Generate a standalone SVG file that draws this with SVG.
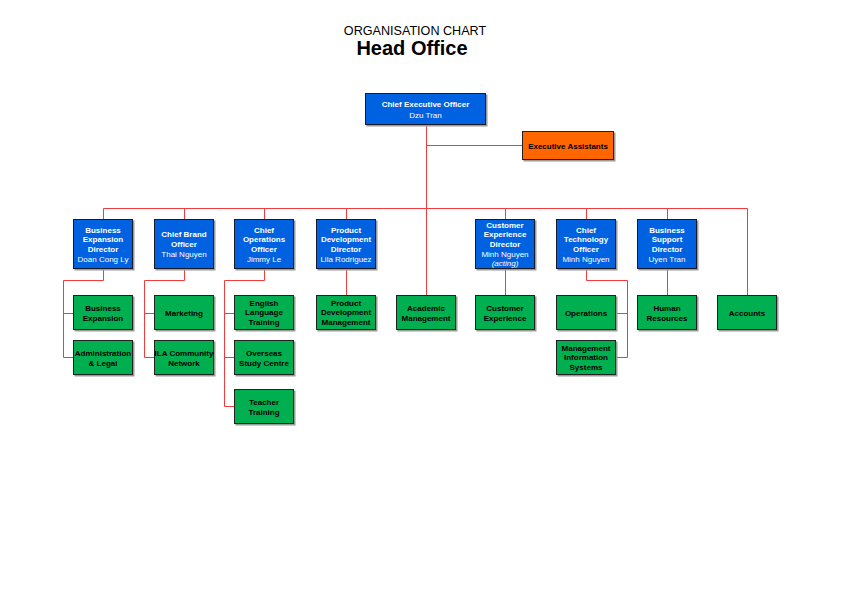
<svg xmlns="http://www.w3.org/2000/svg" width="842" height="595" viewBox="0 0 842 595">
<style>
  text { font-family: "Liberation Sans", Arial, sans-serif; text-anchor: middle; }
  .blue { fill: #0062e0; stroke: #1a1a2a; stroke-width: 1; }
  .green { fill: #00b050; stroke: #222; stroke-width: 1; }
  .orange { fill: #ff6600; stroke: #222; stroke-width: 1; }
  .shadow { fill: #9a9a9a; }
  .wt { fill: #fff; font-size: 8px; font-weight: bold; }
  .wn { fill: #fff; font-size: 8px; }
  .bt { fill: #000; font-size: 8px; font-weight: bold; }
  .conn path { fill: none; stroke: #f03c3c; stroke-width: 1; }
</style>
<rect width="842" height="595" fill="#fff"/>
<text x="415" y="34.5" font-size="12.6">ORGANISATION CHART</text>
<text x="412" y="54.5" font-size="20" font-weight="bold">Head Office</text>

<g class="conn">
  <path d="M426.5 125 V295"/>
  <path d="M426.5 145.5 H522"/>
  <path d="M103.5 208.5 H747.5"/>
  <path d="M103.5 208.5 V219 M184.5 208.5 V219 M264.5 208.5 V219 M346.5 208.5 V219 M505.5 208.5 V219 M586.5 208.5 V219 M667.5 208.5 V219 M747.5 208.5 V295"/>
  <path d="M103.5 269 V280.5 H63.5 V357.5 H73 M63.5 313.5 H73"/>
  <path d="M184.5 269 V280.5 H144.5 V357.5 H154 M144.5 313.5 H154"/>
  <path d="M264.5 269 V280.5 H224.5 V406.5 H234 M224.5 313.5 H234 M224.5 357.5 H234"/>
  <path d="M346.5 269 V295 M505.5 269 V295 M667.5 269 V295"/>
  <path d="M586.5 269 V280.5 H627.5 V357.5 H616 M627.5 313.5 H616"/>
</g>

<g id="ceo">
  <rect class="shadow" x="366.5" y="94.5" width="121" height="32"/>
  <rect class="blue" x="365.5" y="93.5" width="120" height="31"/>
  <text class="wt" x="425.5" y="107" font-size="9">Chief Executive Officer</text>
  <text class="wn" x="425.5" y="117.5" font-size="9">Dzu Tran</text>
</g>
<g id="exec-assistants">
  <rect class="shadow" x="523.5" y="132.5" width="92" height="29"/>
  <rect class="orange" x="522.5" y="131.5" width="91" height="28"/>
  <text class="bt" x="568" y="148.5">Executive Assistants</text>
</g>

<!-- Directors -->
<g id="dir-business-expansion">
  <rect class="shadow" x="74.5" y="220.5" width="60" height="50"/>
  <rect class="blue" x="73.5" y="219.5" width="59" height="49"/>
  <text class="wt" x="103" y="232.5">Business</text>
  <text class="wt" x="103" y="242">Expansion</text>
  <text class="wt" x="103" y="251.8">Director</text>
  <text class="wn" x="103" y="261.5">Doan Cong Ly</text>
</g>
<g id="dir-brand">
  <rect class="shadow" x="155.5" y="220.5" width="60" height="50"/>
  <rect class="blue" x="154.5" y="219.5" width="59" height="49"/>
  <text class="wt" x="184" y="237.3">Chief Brand</text>
  <text class="wt" x="184" y="246.7">Officer</text>
  <text class="wn" x="184" y="256.5">Thai Nguyen</text>
</g>
<g id="dir-operations">
  <rect class="shadow" x="235.5" y="220.5" width="60" height="50"/>
  <rect class="blue" x="234.5" y="219.5" width="59" height="49"/>
  <text class="wt" x="264" y="232.5">Chief</text>
  <text class="wt" x="264" y="242">Operations</text>
  <text class="wt" x="264" y="251.8">Officer</text>
  <text class="wn" x="264" y="261.5">Jimmy Le</text>
</g>
<g id="dir-product">
  <rect class="shadow" x="317.5" y="220.5" width="60" height="50"/>
  <rect class="blue" x="316.5" y="219.5" width="59" height="49"/>
  <text class="wt" x="346" y="232.5">Product</text>
  <text class="wt" x="346" y="242">Development</text>
  <text class="wt" x="346" y="251.8">Director</text>
  <text class="wn" x="346" y="261.5">Lila Rodriguez</text>
</g>
<g id="dir-customer">
  <rect class="shadow" x="476.5" y="220.5" width="60" height="50"/>
  <rect class="blue" x="475.5" y="219.5" width="59" height="49"/>
  <text class="wt" x="505" y="228">Customer</text>
  <text class="wt" x="505" y="237.3">Experience</text>
  <text class="wt" x="505" y="246.7">Director</text>
  <text class="wn" x="505" y="256.5">Minh Nguyen</text>
  <text class="wn" x="505" y="266" font-style="italic">(acting)</text>
</g>
<g id="dir-technology">
  <rect class="shadow" x="557.5" y="220.5" width="60" height="50"/>
  <rect class="blue" x="556.5" y="219.5" width="59" height="49"/>
  <text class="wt" x="586" y="232.5">Chief</text>
  <text class="wt" x="586" y="242">Technology</text>
  <text class="wt" x="586" y="251.8">Officer</text>
  <text class="wn" x="586" y="261.5">Minh Nguyen</text>
</g>
<g id="dir-business-support">
  <rect class="shadow" x="638.5" y="220.5" width="60" height="50"/>
  <rect class="blue" x="637.5" y="219.5" width="59" height="49"/>
  <text class="wt" x="667" y="232.5">Business</text>
  <text class="wt" x="667" y="242">Support</text>
  <text class="wt" x="667" y="251.8">Director</text>
  <text class="wn" x="667" y="261.5">Uyen Tran</text>
</g>

<!-- Departments row 1 -->
<g id="business-expansion">
  <rect class="shadow" x="74.5" y="296.5" width="60" height="35"/>
  <rect class="green" x="73.5" y="295.5" width="59" height="34"/>
  <text class="bt" x="103" y="310.5">Business</text>
  <text class="bt" x="103" y="320.5">Expansion</text>
</g>
<g id="marketing">
  <rect class="shadow" x="155.5" y="296.5" width="60" height="35"/>
  <rect class="green" x="154.5" y="295.5" width="59" height="34"/>
  <text class="bt" x="184" y="315.5">Marketing</text>
</g>
<g id="english-language-training">
  <rect class="shadow" x="235.5" y="296.5" width="60" height="35"/>
  <rect class="green" x="234.5" y="295.5" width="59" height="34"/>
  <text class="bt" x="264" y="305.5">English</text>
  <text class="bt" x="264" y="315">Language</text>
  <text class="bt" x="264" y="324.5">Training</text>
</g>
<g id="product-development-management">
  <rect class="shadow" x="317.5" y="296.5" width="60" height="35"/>
  <rect class="green" x="316.5" y="295.5" width="59" height="34"/>
  <text class="bt" x="346" y="305.5">Product</text>
  <text class="bt" x="346" y="315">Development</text>
  <text class="bt" x="346" y="324.5">Management</text>
</g>
<g id="academic-management">
  <rect class="shadow" x="397.5" y="296.5" width="60" height="35"/>
  <rect class="green" x="396.5" y="295.5" width="59" height="34"/>
  <text class="bt" x="426" y="310.5">Academic</text>
  <text class="bt" x="426" y="320.5">Management</text>
</g>
<g id="customer-experience">
  <rect class="shadow" x="476.5" y="296.5" width="60" height="35"/>
  <rect class="green" x="475.5" y="295.5" width="59" height="34"/>
  <text class="bt" x="505" y="310.5">Customer</text>
  <text class="bt" x="505" y="320.5">Experience</text>
</g>
<g id="operations">
  <rect class="shadow" x="557.5" y="296.5" width="60" height="35"/>
  <rect class="green" x="556.5" y="295.5" width="59" height="34"/>
  <text class="bt" x="586" y="315.5">Operations</text>
</g>
<g id="human-resources">
  <rect class="shadow" x="638.5" y="296.5" width="60" height="35"/>
  <rect class="green" x="637.5" y="295.5" width="59" height="34"/>
  <text class="bt" x="667" y="310.5">Human</text>
  <text class="bt" x="667" y="320.5">Resources</text>
</g>
<g id="accounts">
  <rect class="shadow" x="718.5" y="296.5" width="60" height="35"/>
  <rect class="green" x="717.5" y="295.5" width="59" height="34"/>
  <text class="bt" x="747" y="315.5">Accounts</text>
</g>

<!-- Departments row 2 -->
<g id="administration-legal">
  <rect class="shadow" x="74.5" y="341.5" width="60" height="35"/>
  <rect class="green" x="73.5" y="340.5" width="59" height="34"/>
  <text class="bt" x="103" y="355.5">Administration</text>
  <text class="bt" x="103" y="365.5">&amp; Legal</text>
</g>
<g id="ila-community-network">
  <rect class="shadow" x="155.5" y="341.5" width="60" height="35"/>
  <rect class="green" x="154.5" y="340.5" width="59" height="34"/>
  <text class="bt" x="184" y="355.5">ILA Community</text>
  <text class="bt" x="184" y="365.5">Network</text>
</g>
<g id="overseas-study-centre">
  <rect class="shadow" x="235.5" y="341.5" width="60" height="35"/>
  <rect class="green" x="234.5" y="340.5" width="59" height="34"/>
  <text class="bt" x="264" y="355.5">Overseas</text>
  <text class="bt" x="264" y="365.5">Study Centre</text>
</g>
<g id="management-information-systems">
  <rect class="shadow" x="557.5" y="341.5" width="60" height="35"/>
  <rect class="green" x="556.5" y="340.5" width="59" height="34"/>
  <text class="bt" x="586" y="350.5">Management</text>
  <text class="bt" x="586" y="360">Information</text>
  <text class="bt" x="586" y="369.5">Systems</text>
</g>

<!-- Row 3 -->
<g id="teacher-training">
  <rect class="shadow" x="235.5" y="390.5" width="60" height="35"/>
  <rect class="green" x="234.5" y="389.5" width="59" height="34"/>
  <text class="bt" x="264" y="404.5">Teacher</text>
  <text class="bt" x="264" y="414.5">Training</text>
</g>
</svg>
